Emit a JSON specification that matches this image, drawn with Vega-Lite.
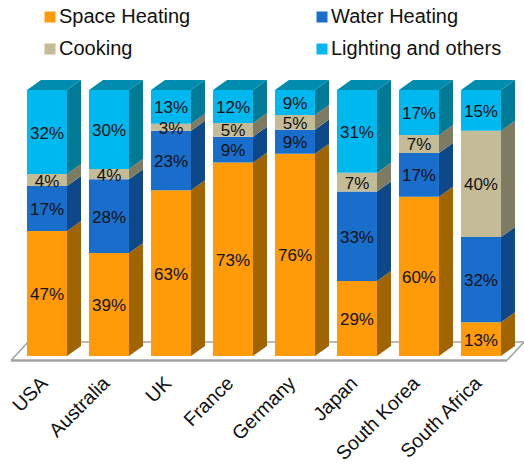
{
"$schema":"https://vega.github.io/schema/vega-lite/v6.json",
"width":524,"height":464,"padding":0,
"autosize":{"type":"none"},
"background":"white",
"config":{"view":{"stroke":null},"font":"Liberation Sans"},
"datasets":{
"energy":[
{"country":"USA","series":"Space Heating","value":47,"label":"47%"},{"country":"USA","series":"Water Heating","value":16.9,"label":"17%"},{"country":"USA","series":"Cooking","value":4.5,"label":"4%"},{"country":"USA","series":"Lighting and others","value":31.6,"label":"32%"},
{"country":"Australia","series":"Space Heating","value":38.7,"label":"39%"},{"country":"Australia","series":"Water Heating","value":27.7,"label":"28%"},{"country":"Australia","series":"Cooking","value":3.9,"label":"4%"},{"country":"Australia","series":"Lighting and others","value":29.7,"label":"30%"},
{"country":"UK","series":"Space Heating","value":62.3,"label":"63%"},{"country":"UK","series":"Water Heating","value":22.4,"label":"23%"},{"country":"UK","series":"Cooking","value":2.6,"label":"3%"},{"country":"UK","series":"Lighting and others","value":12.7,"label":"13%"},
{"country":"France","series":"Space Heating","value":72.7,"label":"73%"},{"country":"France","series":"Water Heating","value":9.7,"label":"9%"},{"country":"France","series":"Cooking","value":5.2,"label":"5%"},{"country":"France","series":"Lighting and others","value":12.4,"label":"12%"},
{"country":"Germany","series":"Space Heating","value":76,"label":"76%"},{"country":"Germany","series":"Water Heating","value":9.1,"label":"9%"},{"country":"Germany","series":"Cooking","value":5.5,"label":"5%"},{"country":"Germany","series":"Lighting and others","value":9.4,"label":"9%"},
{"country":"Japan","series":"Space Heating","value":28.2,"label":"29%"},{"country":"Japan","series":"Water Heating","value":33.6,"label":"33%"},{"country":"Japan","series":"Cooking","value":7.1,"label":"7%"},{"country":"Japan","series":"Lighting and others","value":31.1,"label":"31%"},
{"country":"South Korea","series":"Space Heating","value":59.9,"label":"60%"},{"country":"South Korea","series":"Water Heating","value":16.4,"label":"17%"},{"country":"South Korea","series":"Cooking","value":6.8,"label":"7%"},{"country":"South Korea","series":"Lighting and others","value":16.9,"label":"17%"},
{"country":"South Africa","series":"Space Heating","value":12.7,"label":"13%"},{"country":"South Africa","series":"Water Heating","value":32,"label":"32%"},{"country":"South Africa","series":"Cooking","value":40,"label":"40%"},{"country":"South Africa","series":"Lighting and others","value":15.3,"label":"15%"}
],
"floor":[
{"x":-0.581,"x2":7.419,"y":-0.0169,"y2":-0.0169,"w":"front"},
{"x":-0.306,"x2":7.694,"y":0.0526,"y2":0.0526,"w":"back"},
{"x":-0.581,"x2":-0.306,"y":-0.0169,"y2":0.0526,"w":"back"},
{"x":7.419,"x2":7.694,"y":-0.0169,"y2":0.0526,"w":"back"}
]
},
"data":{"name":"energy"},
"transform":[
{"calculate":"indexof(['Space Heating','Water Heating','Cooking','Lighting and others'],datum.series)","as":"rank"},
{"calculate":"indexof(['USA','Australia','UK','France','Germany','Japan','South Korea','South Africa'],datum.country)","as":"idx"},
{"stack":"value","groupby":["country"],"sort":[{"field":"rank","order":"ascending"}],"offset":"normalize","as":["v0","v1"]},
{"calculate":"datum.idx-0.3226","as":"left"},
{"calculate":"datum.idx+0.3226","as":"right"},
{"calculate":"(datum.v0+datum.v1)/2","as":"mid"}
],
"resolve":{"scale":{"color":"independent"},"legend":{"color":"independent"}},
"layer":[
{"data":{"name":"floor"},"transform":[{"filter":"datum.w=='back'"}],
 "mark":{"type":"rule","color":"#a3a3a3","strokeWidth":1.6},
 "encoding":{
 "x":{"field":"x","type":"quantitative","axis":null,"scale":{"domain":[-0.758,7.694],"nice":false,"zero":false}},
 "x2":{"field":"x2"},
 "y":{"field":"y","type":"quantitative","axis":null,"scale":{"domain":[-0.406,1.3383],"nice":false,"zero":false}},
 "y2":{"field":"y2"}}},
{"data":{"name":"floor"},"transform":[{"filter":"datum.w=='front'"}],
 "mark":{"type":"rule","color":"#a3a3a3","strokeWidth":2.4},
 "encoding":{
 "x":{"field":"x","type":"quantitative","axis":null,"scale":{"domain":[-0.758,7.694],"nice":false,"zero":false}},
 "x2":{"field":"x2"},
 "y":{"field":"y","type":"quantitative","axis":null,"scale":{"domain":[-0.406,1.3383],"nice":false,"zero":false}},
 "y2":{"field":"y2"}}},
{"transform":[
 {"calculate":"[0,1]","as":"edge"},{"flatten":["edge"]},
 {"calculate":"datum.right+datum.edge*0.226","as":"sx"},
 {"calculate":"datum.v0+datum.edge*0.0376","as":"s0"},
 {"calculate":"datum.v1+datum.edge*0.0376","as":"s1"},
 {"calculate":"datum.country+datum.series","as":"key"}],
 "mark":{"type":"area","orient":"vertical"},
 "encoding":{
 "x":{"field":"sx","type":"quantitative","axis":null,"scale":{"domain":[-0.758,7.694],"nice":false,"zero":false}},
 "y":{"field":"s0","type":"quantitative","axis":null,"stack":null,"scale":{"domain":[-0.406,1.3383],"nice":false,"zero":false}},
 "y2":{"field":"s1"},
 "detail":{"field":"key"},
 "color":{"field":"series","type":"nominal","legend":null,"scale":{"domain":["Space Heating","Water Heating","Cooking","Lighting and others"],"range":["#a06500","#0f4888","#7f7a62","#007a95"]}}}},
{"transform":[
 {"filter":"datum.rank==3"},
 {"calculate":"[0,1]","as":"edge"},{"flatten":["edge"]},
 {"calculate":"datum.left+datum.edge*0.226","as":"tl"},
 {"calculate":"datum.right+datum.edge*0.226","as":"tr"},
 {"calculate":"datum.v1+datum.edge*0.0376","as":"ty"}],
 "mark":{"type":"area","orient":"horizontal","color":"#008cae"},
 "encoding":{
 "x":{"field":"tl","type":"quantitative","axis":null,"stack":null,"scale":{"domain":[-0.758,7.694],"nice":false,"zero":false}},
 "x2":{"field":"tr"},
 "y":{"field":"ty","type":"quantitative","axis":null,"scale":{"domain":[-0.406,1.3383],"nice":false,"zero":false}},
 "detail":{"field":"country"}}},
{"mark":{"type":"rect"},
 "encoding":{
 "x":{"field":"left","type":"quantitative","axis":null,"scale":{"domain":[-0.758,7.694],"nice":false,"zero":false}},
 "x2":{"field":"right"},
 "y":{"field":"v0","type":"quantitative","axis":null,"scale":{"domain":[-0.406,1.3383],"nice":false,"zero":false}},
 "y2":{"field":"v1"},
 "color":{"field":"series","type":"nominal",
  "scale":{"domain":["Space Heating","Water Heating","Cooking","Lighting and others"],"range":["#ff9b08","#196ecc","#c4bb97","#00b8f0"]},
  "legend":{"title":null,"orient":"none","legendX":40,"legendY":7,"direction":"horizontal","columns":2,"columnPadding":121,"rowPadding":12,"symbolType":"square","symbolSize":121,"symbolStrokeWidth":0,"symbolOpacity":1,"labelFontSize":20,"labelFont":"Liberation Sans","labelColor":"#111111","labelOffset":-1,"labelLimit":300,"gridAlign":"each"}}}},
{"mark":{"type":"text","fontSize":17,"color":"#111111","font":"Liberation Sans","baseline":"middle","align":"center","dy":1.5},
 "encoding":{
 "x":{"field":"idx","type":"quantitative","axis":null,"scale":{"domain":[-0.758,7.694],"nice":false,"zero":false}},
 "y":{"field":"mid","type":"quantitative","axis":null,"scale":{"domain":[-0.406,1.3383],"nice":false,"zero":false}},
 "text":{"field":"label"}}},
{"transform":[{"filter":"datum.rank==0"}],
 "mark":{"type":"text","fontSize":19.5,"color":"#111111","font":"Liberation Sans","angle":315,"align":"right","baseline":"middle","dx":-2,"dy":-1.5},
 "encoding":{
 "x":{"field":"idx","type":"quantitative","axis":null,"scale":{"domain":[-0.758,7.694],"nice":false,"zero":false}},
 "y":{"datum":-0.09,"type":"quantitative","axis":null,"scale":{"domain":[-0.406,1.3383],"nice":false,"zero":false}},
 "text":{"field":"country"}}}
]
}
